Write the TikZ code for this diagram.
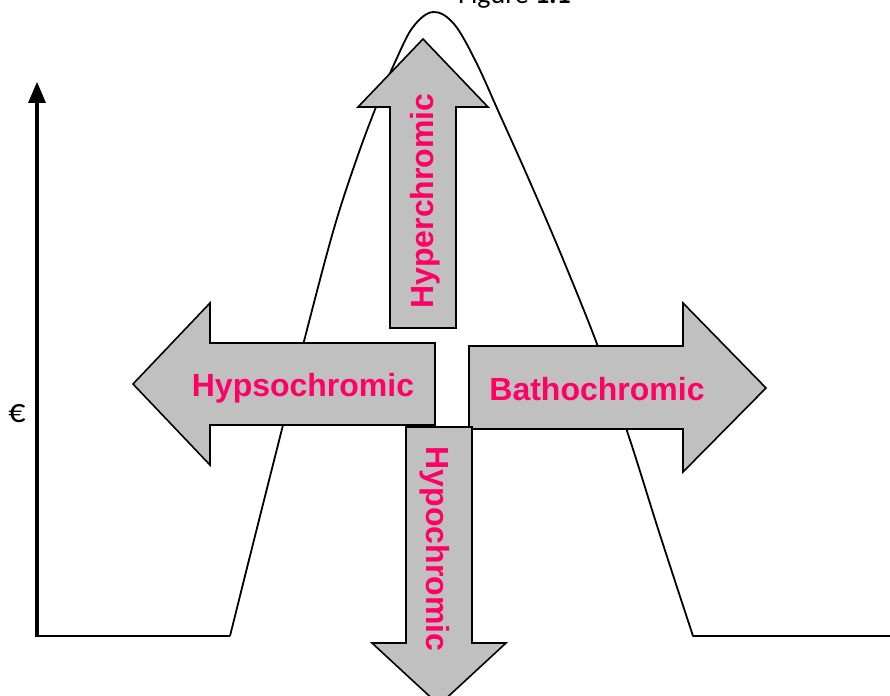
\documentclass[tikz,border=0pt]{standalone}
\usepackage{fontspec}
\newfontfamily\lsans{Liberation Sans}
\newfontfamily\calib{Carlito}
\definecolor{arrowgray}{HTML}{C0C0C0}
\definecolor{labelpink}{HTML}{FF0066}
\begin{document}
\begin{tikzpicture}[x=1pt,y=-1pt,
  bigarrow/.style={draw=black, line width=1.6pt, fill=arrowgray, line join=miter},
  arrowlabel/.style={text=labelpink, font=\lsans\bfseries\fontsize{32}{38}\selectfont, inner sep=0pt},
  curveline/.style={line width=1.8pt, line join=round},
  calibtext/.style={font=\calib\fontsize{28}{34}\selectfont, inner sep=0pt}]
\useasboundingbox (0,0) rectangle (890,695);
\clip (0,0) rectangle (890,695);
% axis
\coordinate (axbot) at (37,637);
\coordinate (axtop) at (37,100);
\draw[line width=4pt] (axbot) -- (axtop);
\fill (37,82) -- (28,103) -- (46,103) -- cycle;
% spectrum curve
\draw[curveline] (37,636) -- (230,636)
  plot[smooth, tension=0.6] coordinates {(230,636) (256,532) (283,425) (310,318) (335,225) (358,155) (378,102) (396,60) (413,27) (433,12) (454,24) (476,62) (500,115) (530,182) (565,264) (600,352) (630,440) (660,535) (693,636)}
  -- (890,636);
% arrows
\draw[bigarrow] (390,328) -- (390,107) -- (358,107) -- (423,39) -- (488,107) -- (456,107) -- (456,328) -- cycle;
\draw[bigarrow] (435,343) -- (210,343) -- (210,303) -- (133,384) -- (210,465) -- (210,425) -- (435,425) -- cycle;
\draw[bigarrow] (469,346) -- (683,346) -- (683,303) -- (766,388) -- (683,472) -- (683,429) -- (469,429) -- cycle;
\draw[bigarrow] (406,427) -- (472,427) -- (472,643) -- (506,643) -- (439,705) -- (372,643) -- (406,643) -- cycle;
% labels
\node[arrowlabel, rotate=90, anchor=base] (hyper) at (433,201) {Hyperchromic};
\node[arrowlabel, anchor=base] (hypso) at (303,396) {Hypsochromic};
\node[arrowlabel, anchor=base] (batho) at (597,400) {Bathochromic};
\node[arrowlabel, rotate=-90, anchor=base] (hypo) at (426,549) {Hypochromic};
\node[calibtext, anchor=base west] (title) at (458,4) {Figure \textbf{1.1}};
\node[calibtext, font=\calib\fontsize{34}{40}\selectfont] (eps) at (17,414) {€};
\end{tikzpicture}
\end{document}
